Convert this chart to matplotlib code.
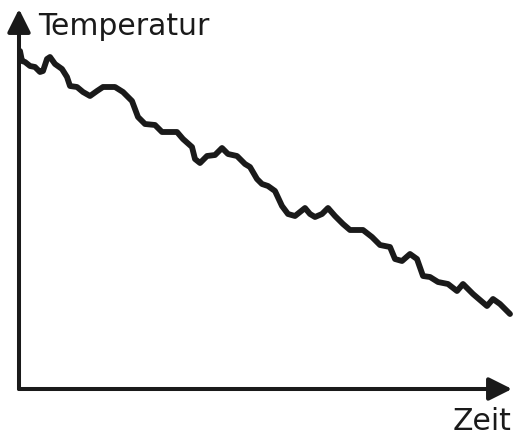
import matplotlib
matplotlib.use("Agg")
import matplotlib.pyplot as plt

# time (arbitrary units) and temperature readings
zeit = [0.2, 0.6, 1.2, 2.2, 3.2, 4.2, 4.8, 5.6, 6.2, 7.2, 8.6, 9.6, 10.2, 11.6,
        12.8, 14.2, 15.6, 16.8, 19.2, 20.8, 22.6, 23.8, 25.2, 27.2, 28.6, 31.6,
        32.8, 34.6, 35.2, 36.2, 37.6, 39.2, 40.6, 41.8, 43.6, 45.2, 46.2, 47.6,
        48.6, 49.8, 51.2, 52.6, 53.8, 55.2, 56.2, 57.2, 58.2, 59.2, 60.6, 61.8,
        63.2, 64.8, 66.2, 68.8, 70.6, 72.2, 74.2, 75.2, 76.6, 78.2, 79.6, 80.8,
        82.2, 83.8, 85.8, 87.6, 88.8, 90.8, 93.6, 94.8, 96.2, 98.2]
temperatur = [67.6, 65.6, 65.4, 64.6, 64.4, 63.4, 63.6, 66.0, 66.4, 65.0, 64.0,
              62.4, 60.6, 60.4, 59.4, 58.6, 59.6, 60.4, 60.4, 59.4, 57.6, 54.4,
              53.0, 52.8, 51.4, 51.4, 50.0, 48.4, 46.0, 45.2, 46.6, 46.8, 48.2,
              47.0, 46.6, 45.0, 44.4, 42.0, 41.0, 40.6, 39.6, 36.6, 35.0, 34.6,
              35.4, 36.2, 35.0, 34.4, 35.0, 36.2, 34.6, 33.0, 31.8, 31.8, 30.4,
              28.8, 28.4, 26.0, 25.6, 27.0, 26.0, 22.6, 22.4, 21.4, 21.0, 19.6,
              21.0, 19.0, 16.6, 18.0, 17.0, 15.0]

x_label = "Zeit"
y_label = "Temperatur"

fig = plt.figure(figsize=(5.16, 4.35), dpi=100)
ax = fig.add_axes([0, 0, 1, 1])
ax.set_xlim(-3.8, 99.4)
ax.set_ylim(-9, 78)
ax.axis("off")

ink = "#1a1a1a"
ax.plot(zeit, temperatur, color=ink, lw=4.2, solid_joinstyle="round",
        solid_capstyle="round")

arrow = dict(arrowstyle="-|>,head_length=0.7,head_width=0.35", lw=2.9,
             color=ink, mutation_scale=20, shrinkA=0, shrinkB=0)
ax.annotate("", xy=(98.6, 0), xytext=(0, 0), arrowprops=arrow)
ax.annotate("", xy=(0, 76), xytext=(0, 0), arrowprops=arrow)

ax.text(3.8, 71, y_label, fontsize=21.5, color=ink, ha="left", va="baseline")
ax.text(98.4, -8.0, x_label, fontsize=21.5, color=ink, ha="right", va="baseline")

fig.savefig("out.png", dpi=100)
